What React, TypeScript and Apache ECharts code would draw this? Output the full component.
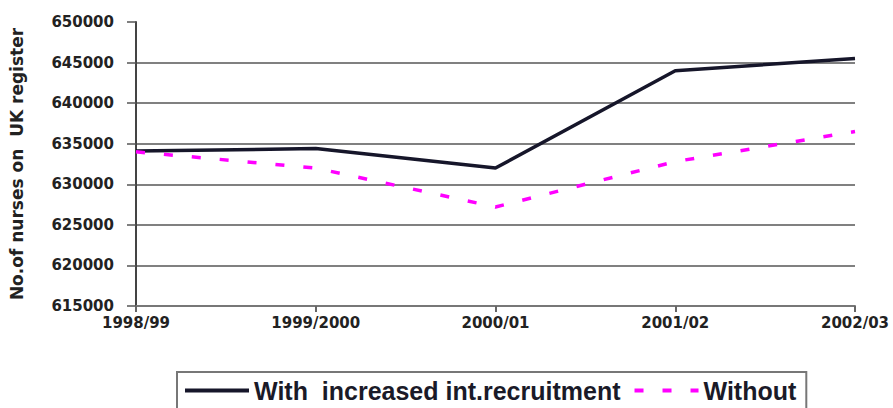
import React, { useEffect, useRef } from "react";
import * as echarts from "echarts";

// Financial years on the category axis
const years = ["1998/99", "1999/2000", "2000/01", "2001/02", "2002/03"];

// Nurses on the UK register, by scenario
const withRecruitment = [634100, 634400, 632000, 644000, 645500];
const withoutRecruitment = [634000, 632000, 627200, 632800, 636500];

// Value axis range and step
const yMin = 615000;
const yMax = 650000;
const yStep = 5000;

const seriesNames = ["With  increased int.recruitment", "Without"];

export default function App() {
  const ref = useRef<HTMLDivElement>(null);

  useEffect(() => {
    if (!ref.current) return;
    const chart = echarts.init(ref.current, null, { renderer: "svg" });
    const tickFont = {
      fontFamily: "DejaVu Sans",
      fontWeight: "bold" as const,
      fontSize: 15,
      color: "#222",
    };
    chart.setOption({
      animation: false,
      backgroundColor: "#fff",
      grid: { left: 130, right: 38, top: 22, bottom: 102 },
      legend: {
        data: seriesNames,
        left: 177,
        top: 372,
        orient: "horizontal",
        padding: [6, 10, 10, 6],
        itemGap: 12,
        itemWidth: 64,
        itemHeight: 14,
        itemStyle: { opacity: 0 },
        lineStyle: { width: 4 },
        borderColor: "#777",
        borderWidth: 2,
        borderRadius: 0,
        textStyle: {
          fontFamily: "Liberation Sans",
          fontWeight: "bold",
          fontSize: 25,
          color: "#1a1a28",
        },
      },
      xAxis: {
        type: "category",
        data: years,
        boundaryGap: false,
        axisLine: { show: true, lineStyle: { color: "#777", width: 2 } },
        axisTick: {
          show: true,
          alignWithLabel: true,
          length: 6,
          lineStyle: { color: "#666", width: 2 },
        },
        axisLabel: { ...tickFont, margin: 9 },
        splitLine: { show: false },
      },
      yAxis: {
        type: "value",
        min: yMin,
        max: yMax,
        interval: yStep,
        name: "No.of nurses on  UK register",
        nameLocation: "middle",
        nameRotate: 90,
        nameGap: 111,
        nameTextStyle: {
          fontFamily: "DejaVu Sans",
          fontWeight: "bold",
          fontSize: 17,
          color: "#222",
        },
        axisLine: { show: true, lineStyle: { color: "#444", width: 2 } },
        axisTick: {
          show: true,
          inside: false,
          length: 9,
          lineStyle: { color: "#555", width: 1.5 },
        },
        axisLabel: {
          ...tickFont,
          margin: 22,
          formatter: (v: number) => String(v),
        },
        splitLine: {
          show: true,
          showMaxLine: false,
          lineStyle: { color: "#808080", width: 2 },
        },
      },
      series: [
        {
          name: seriesNames[0],
          type: "line",
          data: withRecruitment,
          symbol: "none",
          showSymbol: false,
          color: "#16162a",
          lineStyle: { color: "#16162a", width: 3.5 },
        },
        {
          name: seriesNames[1],
          type: "line",
          data: withoutRecruitment,
          symbol: "none",
          showSymbol: false,
          color: "#ff00ff",
          lineStyle: { color: "#ff00ff", width: 3.5, type: [9, 19] },
        },
      ],
    });
    return () => chart.dispose();
  }, []);

  return (
    <div
      ref={ref}
      style={{ position: "absolute", left: 0, top: 0, width: 893, height: 408 }}
    />
  );
}
